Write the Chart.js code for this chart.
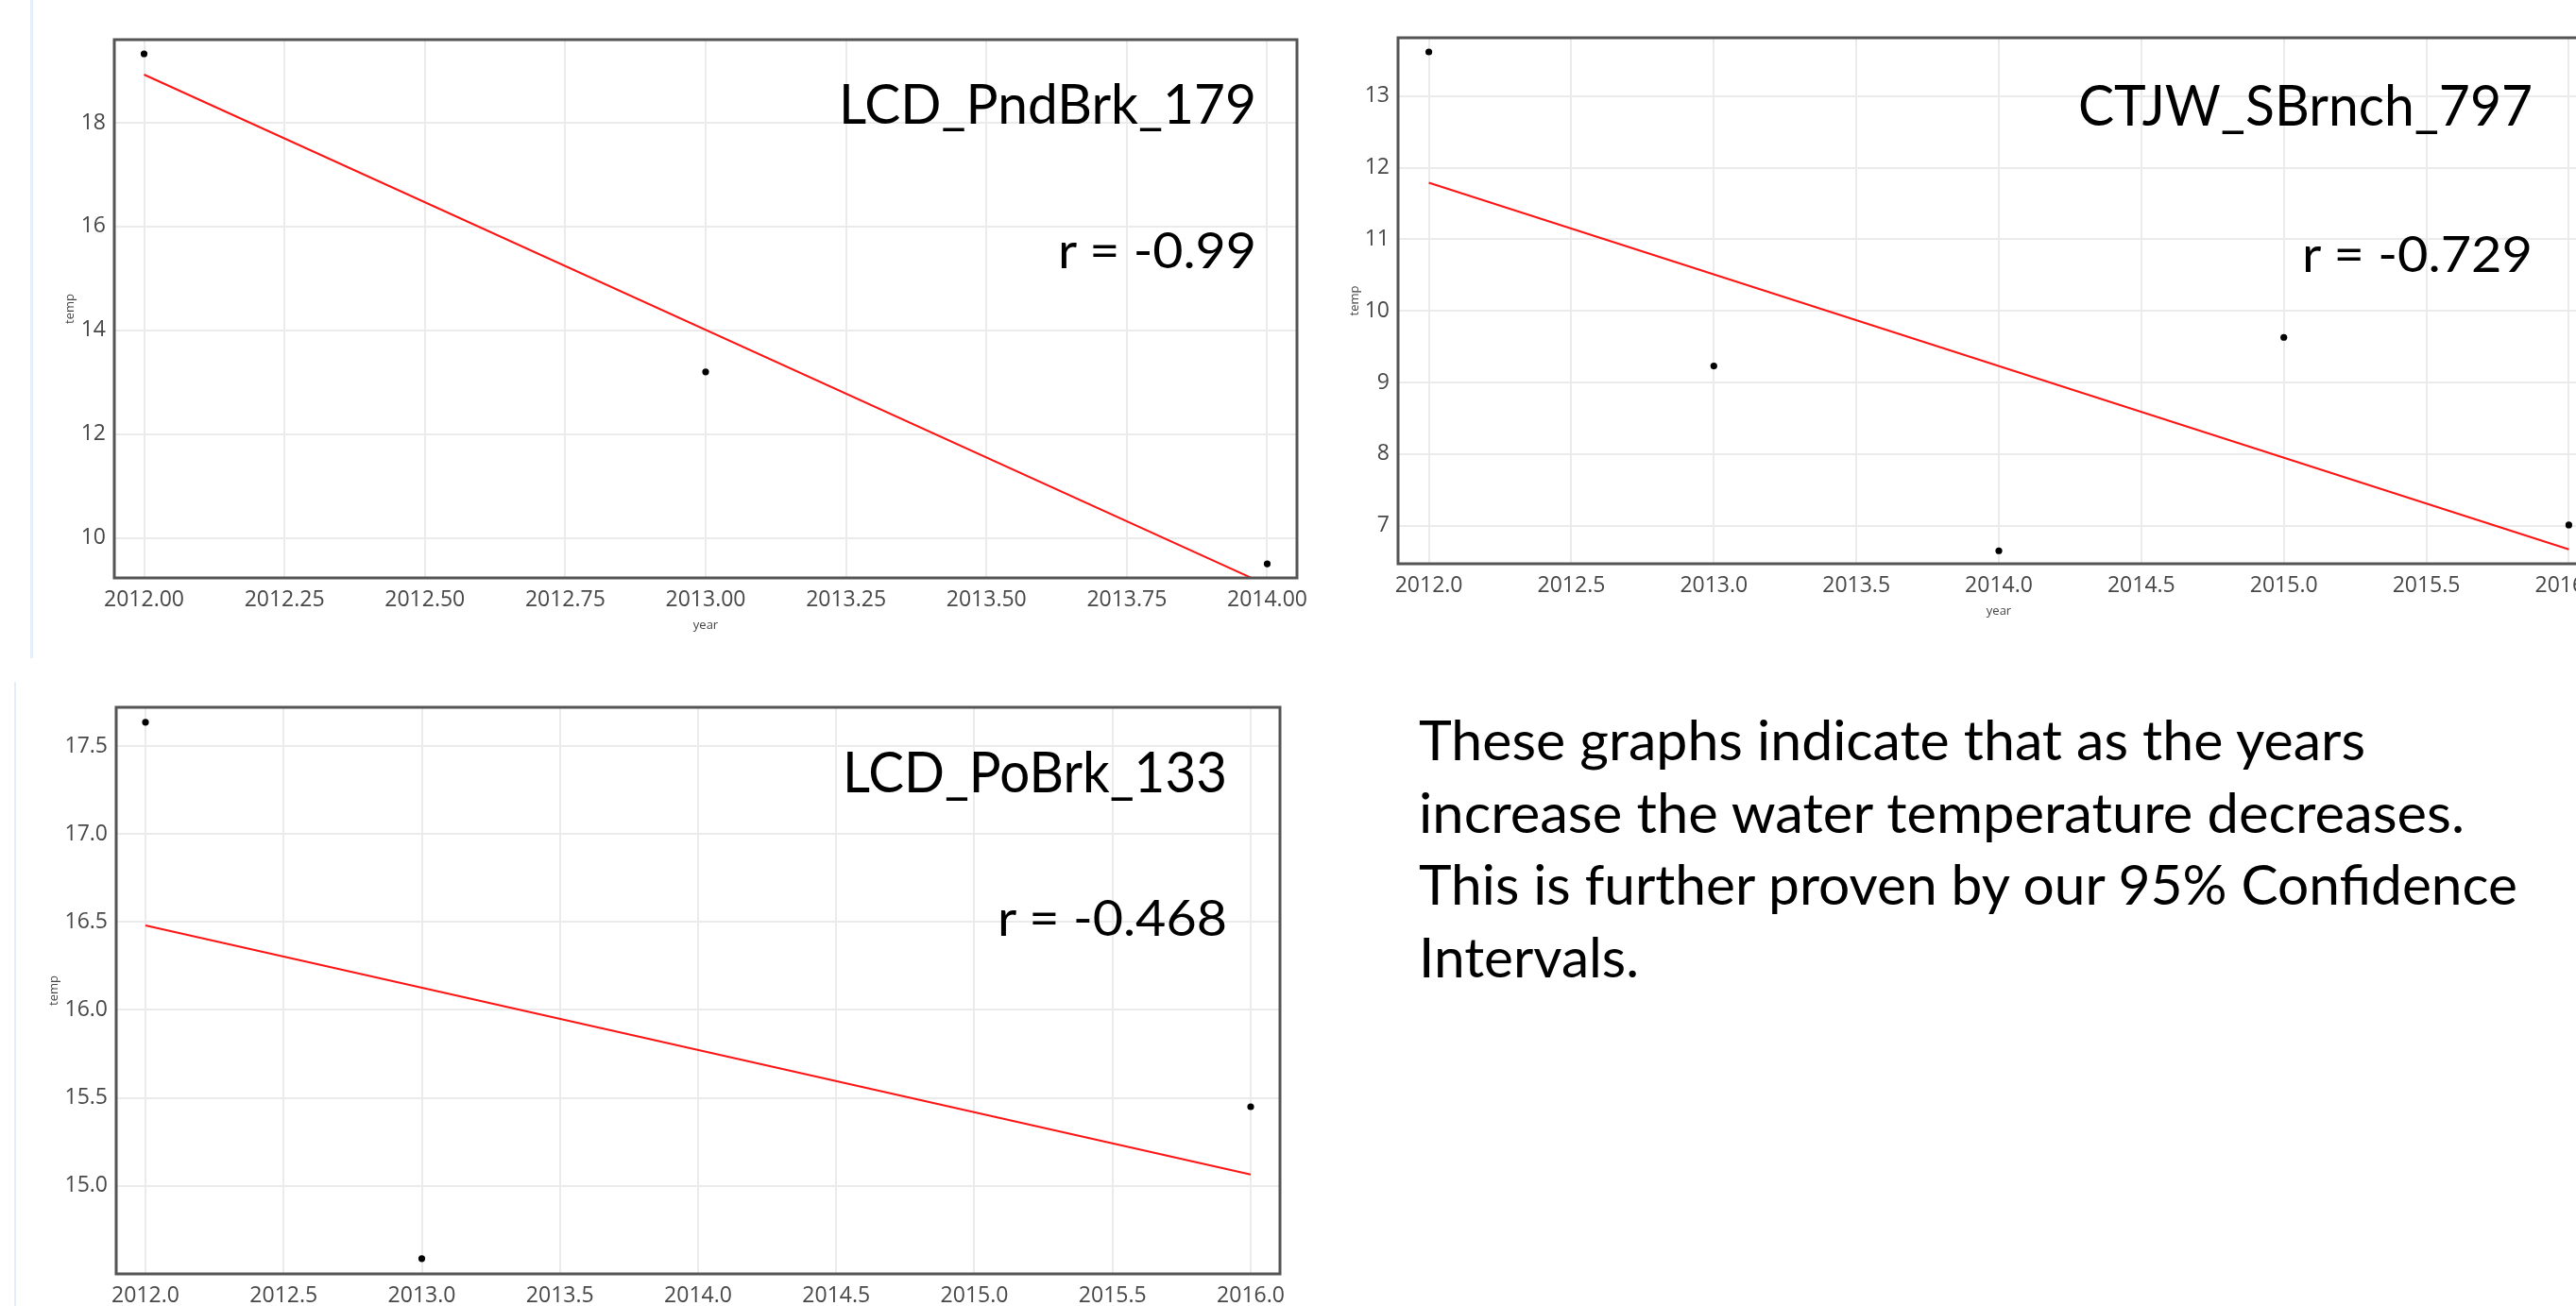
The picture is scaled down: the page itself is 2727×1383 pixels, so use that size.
<!DOCTYPE html>
<html>
<head>
<meta charset="utf-8">
<script src="https://cdn.jsdelivr.net/npm/chart.js@4.4.1/dist/chart.umd.min.js"></script>
<style>
html, body { margin:0; padding:0; background:#fff; width:2727px; height:1383px; overflow:hidden; position:relative; }
canvas { position:absolute; }
.t { position:absolute; top:0; left:0; white-space:nowrap; font-family:Lato, 'Open Sans', sans-serif; color:#000; line-height:normal; transform-origin:0 0; }
.edge { position:absolute; background:#e3effb; }
</style>
</head>
<body>
<div class="edge" style="left:32px;top:0;width:3px;height:697px;"></div>
<div class="edge" style="left:15px;top:722px;width:2px;height:661px;"></div>

<canvas id="c1" width="1352" height="663" style="left:66px;top:12px;"></canvas>
<canvas id="c2" width="1371" height="650" style="left:1426px;top:10px;"></canvas>
<canvas id="c3" width="1351" height="693" style="left:49px;top:719px;"></canvas>

<div class="t" id="a1">LCD_PndBrk_179</div>
<div class="t" id="a2">r = -0.99</div>
<div class="t" id="b1">CTJW_SBrnch_797</div>
<div class="t" id="b2">r = -0.729</div>
<div class="t" id="c1t">LCD_PoBrk_133</div>
<div class="t" id="c2t">r = -0.468</div>
<div class="t" id="p1">These graphs indicate that as the years</div>
<div class="t" id="p2">increase the water temperature decreases.</div>
<div class="t" id="p3">This is further proven by our 95% Confidence</div>
<div class="t" id="p4">Intervals.</div>

<script>
// ---------- DATA ----------
// Panel 1: LCD_PndBrk_179
const years1 = [2012, 2013, 2014];
const temp1 = [19.33, 13.2, 9.5];
const fitYears1 = [2012, 2014];
const fitTemp1 = [18.93, 9.09];
const xTicks1 = [2012, 2012.25, 2012.5, 2012.75, 2013, 2013.25, 2013.5, 2013.75, 2014];
const yTicks1 = [10, 12, 14, 16, 18];

// Panel 2: CTJW_SBrnch_797
const years2 = [2012, 2013, 2014, 2015, 2016];
const temp2 = [13.615, 9.23, 6.65, 9.63, 7.01];
const fitYears2 = [2012, 2016];
const fitTemp2 = [11.79, 6.67];
const xTicks2 = [2012, 2012.5, 2013, 2013.5, 2014, 2014.5, 2015, 2015.5, 2016];
const yTicks2 = [7, 8, 9, 10, 11, 12, 13];

// Panel 3: LCD_PoBrk_133
const years3 = [2012, 2013, 2016];
const temp3 = [17.635, 14.587, 15.45];
const fitYears3 = [2012, 2016];
const fitTemp3 = [16.48, 15.065];
const xTicks3 = [2012, 2012.5, 2013, 2013.5, 2014, 2014.5, 2015, 2015.5, 2016];
const yTicks3 = [15.0, 15.5, 16.0, 16.5, 17.0, 17.5];

const xTitle = 'year';
const yTitle = 'temp';

// ---------- CHARTS ----------
const framePlugin = {
  id: 'frame',
  afterDraw(chart) {
    const { ctx, chartArea: a } = chart;
    ctx.save();
    ctx.strokeStyle = '#545454';
    ctx.lineWidth = 3;
    ctx.strokeRect(a.left, a.top, a.right - a.left, a.bottom - a.top);
    ctx.restore();
  }
};

function makeChart(id, xs, ys, fx, fy, xt, yt, xDec, yDec, xr, yr, yAxisW) {
  const tickFont = { family: "'Open Sans', sans-serif", size: 23 };
  const titleFont = { family: "'Open Sans', sans-serif", size: 13 };
  return new Chart(document.getElementById(id), {
    type: 'scatter',
    data: {
      datasets: [
        {
          data: fx.map((x, i) => ({ x, y: fy[i] })),
          showLine: true,
          borderColor: 'rgb(255,20,20)',
          borderWidth: 2,
          pointRadius: 0,
          fill: false,
          order: 2
        },
        {
          data: xs.map((x, i) => ({ x, y: ys[i] })),
          pointRadius: 3.6,
          pointBackgroundColor: '#000',
          pointBorderColor: '#000',
          pointBorderWidth: 0,
          order: 1
        }
      ]
    },
    options: {
      responsive: false,
      animation: false,
      events: [],
      layout: { padding: { top: 30, right: 45, bottom: 5, left: 0 } },
      plugins: { legend: { display: false }, tooltip: { enabled: false } },
      scales: {
        x: {
          type: 'linear',
          min: xr[0], max: xr[1],
          afterBuildTicks: s => { s.ticks = xt.map(v => ({ value: v })); },
          afterFit: s => { s.height = 58; },
          ticks: { font: tickFont, color: '#474747', padding: 10, maxRotation: 0, autoSkip: false,
                   callback: v => Number(v).toFixed(xDec) },
          grid: { color: '#ebebeb', lineWidth: 2, drawTicks: false },
          border: { display: false },
          title: { display: true, text: xTitle, font: titleFont, color: '#444', padding: { top: 0, bottom: 0 } }
        },
        y: {
          type: 'linear',
          min: yr[0], max: yr[1],
          afterBuildTicks: s => { s.ticks = yt.map(v => ({ value: v })); },
          afterFit: s => { s.width = yAxisW; },
          ticks: { font: tickFont, color: '#474747', padding: 9, autoSkip: false,
                   callback: v => Number(v).toFixed(yDec) },
          grid: { color: '#ebebeb', lineWidth: 2, drawTicks: false },
          border: { display: false },
          title: { display: true, text: yTitle, font: titleFont, color: '#444', padding: { top: 0, bottom: 0 } }
        }
      }
    },
    plugins: [framePlugin]
  });
}

makeChart('c1', years1, temp1, fitYears1, fitTemp1, xTicks1, yTicks1, 2, 0,
          [2011.947, 2014.053], [9.228, 19.603], 55);
makeChart('c2', years2, temp2, fitYears2, fitTemp2, xTicks2, yTicks2, 1, 0,
          [2011.892, 2016.108], [6.469, 13.813], 54);
makeChart('c3', years3, temp3, fitYears3, fitTemp3, xTicks3, yTicks3, 1, 1,
          [2011.894, 2016.106], [14.50, 17.72], 74);

// ---------- TEXT PLACEMENT ----------
const CAP = 0.7165; // Lato cap height ratio
const textLayout = [
  { id: 'a1', left: 888, right: 1330, base: 131, cap: 41.5 },
  { id: 'a2', left: 1120, right: 1330, base: 284, cap: 37 },
  { id: 'b1', left: 2200, right: 2681, base: 133, cap: 43 },
  { id: 'b2', left: 2437, right: 2681, base: 288, cap: 38 },
  { id: 'c1t', left: 892, right: 1299, base: 838.5, cap: 42.5 },
  { id: 'c2t', left: 1056, right: 1299, base: 991, cap: 38 },
  { id: 'p1', left: 1502, right: 2504, base: 805, cap: 41.5 },
  { id: 'p2', left: 1502, right: 2609, base: 882, cap: 41.5 },
  { id: 'p3', left: 1502, right: 2665, base: 958, cap: 41.5 },
  { id: 'p4', left: 1502, right: 1735, base: 1035, cap: 41.5 }
];

function placeAll() {
  textLayout.forEach(o => {
    const el = document.getElementById(o.id);
    el.style.transform = 'none';
    el.style.left = '0px';
    el.style.top = '0px';
    el.style.fontSize = (o.cap / CAP) + 'px';
    let mk = el.querySelector('.mk');
    if (!mk) {
      mk = document.createElement('span');
      mk.className = 'mk';
      mk.style.cssText = 'display:inline-block;width:0;height:0;vertical-align:baseline;';
      el.appendChild(mk);
    }
    const r = el.getBoundingClientRect();
    const m = mk.getBoundingClientRect();
    const baseOff = m.bottom - r.top;
    const sx = (o.right - o.left) / r.width;
    el.style.left = o.left + 'px';
    el.style.top = (o.base - baseOff) + 'px';
    el.style.transform = 'scaleX(' + sx + ')';
  });
}
placeAll();
if (document.fonts && document.fonts.ready) document.fonts.ready.then(placeAll);
</script>
</body>
</html>
